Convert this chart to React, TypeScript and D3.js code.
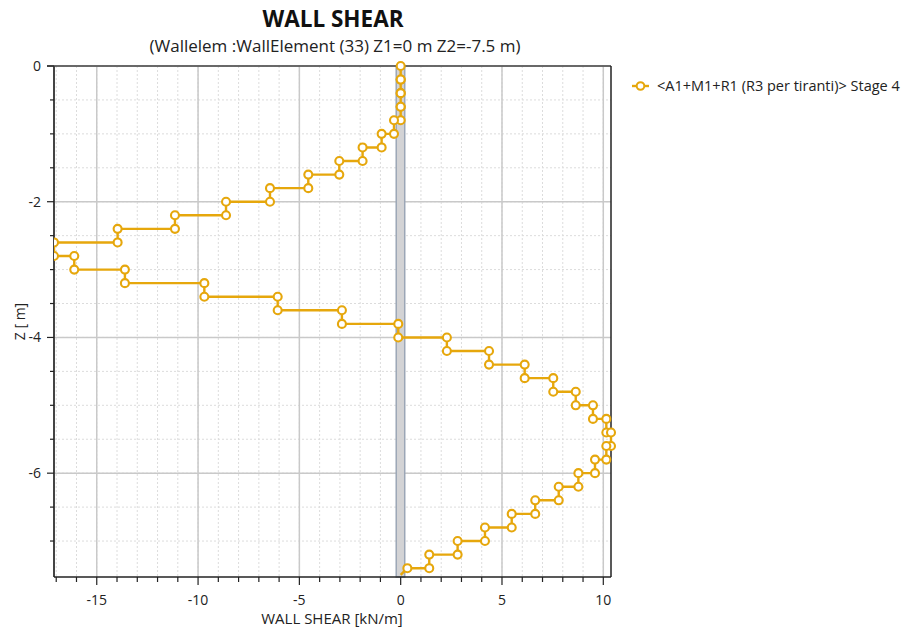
import React from 'react'
import * as d3 from 'd3'

// element boundaries (m) and the constant shear of each 0.2 m element (kN/m)
const levels = [0, -0.2, -0.4, -0.6, -0.8, -1.0, -1.2, -1.4, -1.6, -1.8, -2.0, -2.2, -2.4, -2.6, -2.8, -3.0, -3.2, -3.4, -3.6, -3.8,
  -4.0, -4.2, -4.4, -4.6, -4.8, -5.0, -5.2, -5.4, -5.6, -5.8, -6.0, -6.2, -6.4, -6.6, -6.8, -7.0, -7.2, -7.4]
const shear = [0, 0, 0, 0, -0.33, -0.94, -1.88, -3.03, -4.56, -6.45, -8.62, -11.14, -13.97, -17.11, -16.11, -13.61, -9.69, -6.07, -2.9,
  -0.12, 2.28, 4.36, 6.12, 7.53, 8.64, 9.49, 10.15, 10.38, 10.15, 9.59, 8.77, 7.8, 6.64, 5.48, 4.16, 2.81, 1.41]
// last node value and wall toe
const tailValue = 0.33
const toe = { x: 0, z: -7.5 }

const xTicks = [-15, -10, -5, 0, 5, 10]
const yTicks = [0, -2, -4, -6]
const wallFace = [-0.22, 0.2]

const title = 'WALL SHEAR'
const subtitle = '(Wallelem :WallElement (33) Z1=0 m Z2=-7.5 m)'
const xLabel = 'WALL SHEAR [kN/m]'
const yLabel = 'Z [ m]'
const seriesName = '<A1+M1+R1 (R3 per tiranti)> Stage 4'

const W = 906, H = 628
const plot = { left: 54, right: 611, top: 66, bottom: 577 }
const orange = '#e6a70c'
const font = '"Open Sans", "Noto Sans", sans-serif'

export default function App() {
  // step polyline: each element drawn top -> bottom, jumps at nodes
  const pts: { x: number; z: number }[] = []
  shear.forEach((v, i) => {
    pts.push({ x: v, z: levels[i] })
    pts.push({ x: v, z: levels[i + 1] })
  })
  pts.push({ x: tailValue, z: levels[levels.length - 1] })

  const xMin = d3.min(shear) as number
  const xMax = d3.max(shear) as number
  const x = d3.scaleLinear().domain([xMin, xMax]).range([plot.left, plot.right])
  const y = d3.scaleLinear().domain([-7.53, 0]).range([plot.bottom, plot.top])

  const minorX = d3.range(Math.ceil(xMin), Math.floor(xMax) + 1)
  const minorY = d3.range(0, -7.5, -0.5)

  const line = d3.line<{ x: number; z: number }>().x(d => x(d.x)).y(d => y(d.z))
  const pathPts = [...pts, toe]

  return (
    <svg width={W} height={H} style={{ display: 'block', position: 'absolute', left: 0, top: 0 }} fontFamily={font}>
      <rect width={W} height={H} fill="#fff" />
      <text x={333} y={27} textAnchor="middle" fontSize={22.5} fontWeight="bold" fill="#111">{title}</text>
      <text x={335} y={52} textAnchor="middle" fontSize={17} fill="#222">{subtitle}</text>

      <defs>
        <clipPath id="pc"><rect x={plot.left} y={plot.top - 6} width={plot.right - plot.left + 6} height={plot.bottom - plot.top + 6} /></clipPath>
      </defs>

      {/* minor grid */}
      {minorX.map(v => (
        <line key={'mx' + v} x1={x(v)} x2={x(v)} y1={plot.top} y2={plot.bottom} stroke="#dcdcdc" strokeDasharray="2,2" />
      ))}
      {minorY.map(v => (
        <line key={'my' + v} x1={plot.left} x2={plot.right} y1={y(v)} y2={y(v)} stroke="#dcdcdc" strokeDasharray="2,2" />
      ))}
      {/* major grid */}
      {xTicks.map(v => (
        <line key={'gx' + v} x1={x(v)} x2={x(v)} y1={plot.top} y2={plot.bottom} stroke="#c9c9c9" strokeWidth={1.5} />
      ))}
      {yTicks.map(v => (
        <line key={'gy' + v} x1={plot.left} x2={plot.right} y1={y(v)} y2={y(v)} stroke="#c9c9c9" strokeWidth={1.5} />
      ))}

      {/* wall */}
      <rect x={x(wallFace[0])} y={plot.top} width={x(wallFace[1]) - x(wallFace[0])} height={plot.bottom - plot.top}
        fill="#d3d3d5" stroke="#9ba6b6" strokeWidth={1.5} />

      {/* frame */}
      <line x1={plot.left - 7} x2={plot.right} y1={plot.top} y2={plot.top} stroke="#444" strokeWidth={1.5} />
      <line x1={plot.right} x2={plot.right} y1={plot.top} y2={plot.bottom} stroke="#222" strokeWidth={1.5} />
      <line x1={plot.left} x2={plot.left} y1={plot.top} y2={plot.bottom} stroke="#444" strokeWidth={2} />
      <line x1={plot.left} x2={plot.right} y1={plot.bottom} y2={plot.bottom} stroke="#222" strokeWidth={1.5} />

      {/* y ticks */}
      {minorY.map(v => (
        <line key={'ty' + v} x1={plot.left - (v % 2 === 0 ? 7 : 4)} x2={plot.left} y1={y(v)} y2={y(v)} stroke="#222" strokeWidth={1.2} />
      ))}
      {yTicks.map(v => (
        <text key={'ly' + v} x={41} y={y(v) + 5} textAnchor="end" fontSize={14} fill="#222">{v}</text>
      ))}
      {/* x ticks */}
      {minorX.map(v => (
        <line key={'tx' + v} x1={x(v)} x2={x(v)} y1={plot.bottom} y2={plot.bottom + (v % 5 === 0 ? 8 : 5)} stroke="#222" strokeWidth={1.2} />
      ))}
      {xTicks.map(v => (
        <text key={'lx' + v} x={x(v)} y={605} textAnchor="middle" fontSize={14} fill="#222">{v}</text>
      ))}

      <text x={332} y={624} textAnchor="middle" fontSize={15} fill="#222">{xLabel}</text>
      <text transform={`translate(25,${(plot.top + plot.bottom) / 2}) rotate(-90)`} textAnchor="middle" fontSize={14} fill="#222">{yLabel}</text>

      {/* series */}
      <g clipPath="url(#pc)">
        <path d={line(pathPts) ?? ''} fill="none" stroke={orange} strokeWidth={2.4} strokeLinejoin="round" />
        {pts.map((p, i) => (
          <circle key={i} cx={x(p.x)} cy={y(p.z)} r={4} fill="#fff" stroke={orange} strokeWidth={2.1} />
        ))}
      </g>

      {/* legend */}
      <line x1={632} x2={649} y1={86} y2={86} stroke={orange} strokeWidth={2.4} />
      <circle cx={640.5} cy={86} r={3.8} fill="#fff" stroke={orange} strokeWidth={2} />
      <text x={657} y={91} fontSize={14.5} fill="#222">{seriesName}</text>
    </svg>
  )
}
